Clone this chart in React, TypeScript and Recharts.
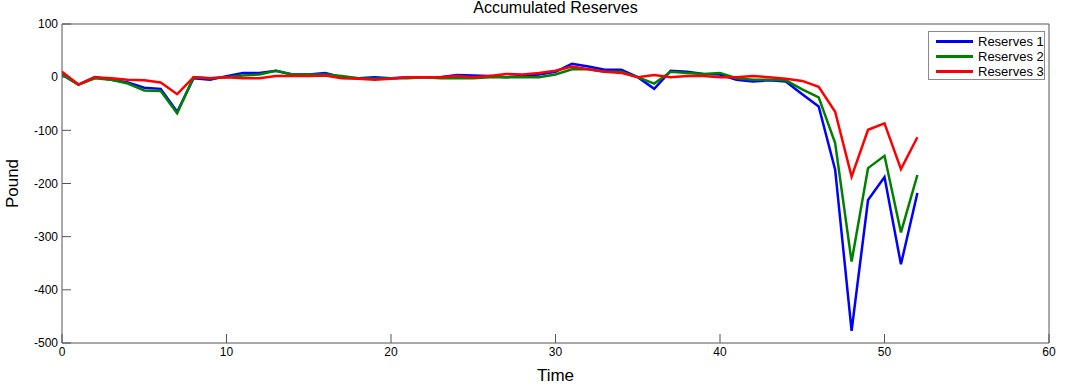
import React from 'react';
import { LineChart, Line, XAxis, YAxis, Legend, Label } from 'recharts';

const time = [
  0, 1, 2, 3, 4, 5, 6, 7, 8, 9, 10, 11, 12, 13, 14, 15, 16, 17, 18, 19, 20, 21, 22, 23, 24, 25, 26,
  27, 28, 29, 30, 31, 32, 33, 34, 35, 36, 37, 38, 39, 40, 41, 42, 43, 44, 45, 46, 47, 48, 49, 50, 51, 52,
];

const reserves1 = [
  5, -14, 0, -5, -10, -20, -22, -65, -2, -5, 2, 8, 8, 12, 5, 5, 8, 0, -2, 0, -2, 0, 0, 0, 4, 3, 2,
  0, 2, 5, 10, 25, 20, 14, 14, 0, -22, 12, 10, 6, 5, -5, -8, -6, -8, -32, -55, -174, -477, -231, -188, -352, -218,
];

const reserves2 = [
  5, -14, -2, -5, -12, -25, -26, -68, 0, -2, 0, 3, 5, 12, 5, 5, 5, 2, -2, -3, -2, -2, 0, -2, -2, -2, 0,
  0, 0, 0, 5, 15, 15, 10, 10, 0, -12, 10, 8, 6, 8, -2, -5, -5, -6, -23, -38, -124, -347, -171, -148, -292, -184,
];

const reserves3 = [
  10, -14, 0, -2, -5, -6, -10, -32, 0, -2, 0, -2, -2, 2, 2, 2, 3, -2, -3, -5, -3, 0, 0, 0, 2, 0, 2,
  6, 5, 8, 12, 20, 15, 10, 8, 0, 4, 0, 2, 2, 0, 0, 2, 0, -3, -7, -18, -65, -187, -99, -87, -173, -113,
];

const xTicks = [0, 10, 20, 30, 40, 50, 60];
const yTicks = [-500, -400, -300, -200, -100, 0, 100];

const seriesNames = ['Reserves 1', 'Reserves 2', 'Reserves 3'];
const seriesColors = ['#0000ff', '#008000', '#ff0000'];

const data = time.map((t, i) => ({
  time: t,
  r1: reserves1[i],
  r2: reserves2[i],
  r3: reserves3[i],
}));

const FONT = 'Arial, "Liberation Sans", sans-serif';
const AXIS = '#555555';

const LegendBox = () => (
  <div
    style={{
      width: 117,
      height: 49,
      border: '1px solid #8a8a8a',
      background: '#fff',
      padding: '2px 0 0 7px',
      fontFamily: FONT,
      fontSize: 13,
      lineHeight: '15px',
      color: '#000',
      boxSizing: 'border-box',
      whiteSpace: 'nowrap',
    }}
  >
    {seriesNames.map((name, i) => (
      <div key={name} style={{ display: 'flex', alignItems: 'center', height: 15 }}>
        <div style={{ width: 37, height: 3, background: seriesColors[i], marginRight: 5, flexShrink: 0 }} />
        <span>{name}</span>
      </div>
    ))}
  </div>
);

const App = () => {
  return (
    <div style={{ position: 'absolute', left: 0, top: 0, width: 1071, height: 387, background: '#fff' }}>
      <div
        style={{
          position: 'absolute',
          left: 62,
          width: 987,
          top: 0,
          textAlign: 'center',
          fontFamily: FONT,
          fontSize: 16,
          lineHeight: '16px',
          color: '#000',
        }}
      >
        Accumulated Reserves
      </div>
      <LineChart
        width={1071}
        height={387}
        data={data}
        margin={{ top: 23, right: 21, left: 0, bottom: 0 }}
        style={{ fontFamily: FONT }}
      >
        <XAxis
          dataKey="time"
          type="number"
          domain={[0, 60]}
          ticks={xTicks}
          height={44}
          stroke={AXIS}
          tickSize={-9}
          tickMargin={13}
          tick={{ fill: '#000', fontSize: 12 }}
          allowDataOverflow
        >
          <Label value="Time" position="insideBottom" offset={6} style={{ fontSize: 17, fill: '#000' }} />
        </XAxis>
        <XAxis
          xAxisId="top"
          dataKey="time"
          orientation="top"
          type="number"
          domain={[0, 60]}
          ticks={xTicks}
          height={1}
          stroke={AXIS}
          tickSize={-9}
          tick={false}
          allowDataOverflow
        />
        <YAxis
          type="number"
          domain={[-500, 100]}
          ticks={yTicks}
          width={62}
          stroke={AXIS}
          tickSize={-9}
          tickMargin={13}
          tick={{ fill: '#000', fontSize: 12 }}
          allowDataOverflow
        >
          <Label
            value="Pound"
            angle={-90}
            position="insideLeft"
            offset={12}
            style={{ fontSize: 17, fill: '#000', textAnchor: 'middle' }}
          />
        </YAxis>
        <YAxis
          yAxisId="right"
          orientation="right"
          type="number"
          domain={[-500, 100]}
          ticks={yTicks}
          width={1}
          stroke={AXIS}
          tickSize={-9}
          tick={false}
          allowDataOverflow
        />
        <Legend
          layout="vertical"
          align="center"
          verticalAlign="middle"
          content={() => <LegendBox />}
          wrapperStyle={{ left: 928, top: 31, width: 117, height: 49 }}
        />
        <Line dataKey="r1" name={seriesNames[0]} stroke={seriesColors[0]} strokeWidth={2.5} dot={false} isAnimationActive={false} />
        <Line dataKey="r2" name={seriesNames[1]} stroke={seriesColors[1]} strokeWidth={2.5} dot={false} isAnimationActive={false} />
        <Line dataKey="r3" name={seriesNames[2]} stroke={seriesColors[2]} strokeWidth={2.5} dot={false} isAnimationActive={false} />
        <Line xAxisId="top" yAxisId="right" dataKey="r1" stroke="none" dot={false} legendType="none" isAnimationActive={false} />
      </LineChart>
    </div>
  );
};

export default App;
